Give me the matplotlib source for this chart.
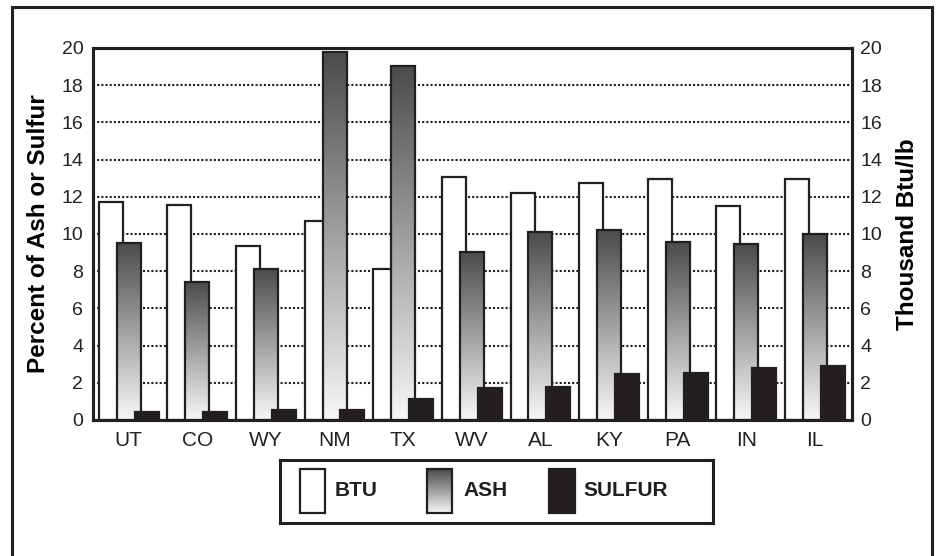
#!/usr/bin/env python3
"""Coal quality by state: BTU, ash and sulfur."""

import matplotlib

matplotlib.use("Agg")
import matplotlib.pyplot as plt
import numpy as np
from matplotlib.colors import LinearSegmentedColormap
from matplotlib.patches import Rectangle

plt.rcParams["font.family"] = ["Liberation Sans", "DejaVu Sans"]

states = ["UT", "CO", "WY", "NM", "TX", "WV", "AL", "KY", "PA", "IN", "IL"]
btu = [11.74, 11.56, 9.37, 10.70, 8.12, 13.08, 12.22, 12.73, 12.96, 11.52, 12.97]   # thousand Btu/lb
ash = [9.52, 7.42, 8.12, 19.76, 19.04, 9.03, 10.12, 10.20, 9.55, 9.48, 9.98]       # percent
sulfur = [0.43, 0.42, 0.55, 0.54, 1.13, 1.72, 1.79, 2.47, 2.53, 2.78, 2.92]         # percent
y_ticks = [0, 2, 4, 6, 8, 10, 12, 14, 16, 18, 20]

EDGE = "#231f20"
W, H = 937, 556
ash_cmap = LinearSegmentedColormap.from_list("ash", ["#f7f7f7", "#4b4b4b"])
grad = np.linspace(1, 0, 256)[:, None]

fig = plt.figure(figsize=(W / 100, H / 100), dpi=100)
ax = fig.add_axes([93 / W, (H - 420) / H, (852 - 93) / W, (420 - 48) / H])

x = np.arange(len(states))
bw = 0.35
ax.bar(x - 0.26, btu, bw, color="white", edgecolor=EDGE, linewidth=1.6, zorder=2)
ash_bars = ax.bar(x, ash, bw, color="none", edgecolor=EDGE, linewidth=1.6, zorder=4)
for b in ash_bars:
    ax.imshow(grad, cmap=ash_cmap, vmin=0, vmax=1, aspect="auto", origin="upper",
              extent=(b.get_x(), b.get_x() + b.get_width(), 0, b.get_height()), zorder=3)
ax.bar(x + 0.26, sulfur, bw, color=EDGE, edgecolor=EDGE, linewidth=1.6, zorder=5)

ax.set_xlim(-0.52, 10.54)
ax.set_ylim(0, 20)
ax.set_xticks(x)
ax.set_xticklabels(states, fontsize=15)
ax.set_yticks(y_ticks)
ax.tick_params(axis="both", length=0, colors="#222222")
ax.tick_params(axis="y", labelsize=14, pad=7)
ax.tick_params(axis="x", pad=8)
ax.set_axisbelow(True)
ax.grid(axis="y", linestyle=(0, (1, 1)), color=EDGE, linewidth=1.5)
for s in ax.spines.values():
    s.set_linewidth(2.2)
    s.set_color(EDGE)
ax.set_ylabel("Percent of Ash or Sulfur", fontsize=17.5, fontweight="bold", labelpad=8)

ax2 = ax.twinx()
ax2.set_ylim(0, 20)
ax2.set_yticks(y_ticks)
ax2.tick_params(axis="y", length=0, labelsize=14, pad=6, colors="#222222")
for s in ax2.spines.values():
    s.set_linewidth(2.2)
    s.set_color(EDGE)
ax2.set_ylabel("Thousand Btu/lb", fontsize=17.5, fontweight="bold", labelpad=10)

# legend box drawn by hand, in pixel coordinates
lax = fig.add_axes([280 / W, (H - 523) / H, 433 / W, 63 / H])
lax.set_xlim(0, 433)
lax.set_ylim(63, 0)
lax.set_xticks([])
lax.set_yticks([])
for s in lax.spines.values():
    s.set_linewidth(2.2)
    s.set_color(EDGE)
lax.add_patch(Rectangle((20, 9), 25, 44, facecolor="white", edgecolor=EDGE, linewidth=1.6))
lax.imshow(grad, cmap=ash_cmap, vmin=0, vmax=1, aspect="auto", origin="upper",
           extent=(147, 172, 53, 9), zorder=2)
lax.add_patch(Rectangle((147, 9), 25, 44, facecolor="none", edgecolor=EDGE, linewidth=1.6, zorder=3))
lax.add_patch(Rectangle((269, 9), 26, 44, facecolor=EDGE, edgecolor=EDGE, linewidth=1.6))
for tx, label in [(55, "BTU"), (183, "ASH"), (303, "SULFUR")]:
    lax.text(tx, 30, label, fontsize=15, fontweight="bold", va="center", ha="left", color=EDGE)

# outer frame, open at the bottom edge of the image
fig.add_artist(Rectangle((12 / W, -0.1), 920 / W, (H - 7) / H + 0.1, transform=fig.transFigure,
                         facecolor="none", edgecolor=EDGE, linewidth=2.2, clip_on=False))

fig.savefig("out.png", dpi=100)
plt.close(fig)
